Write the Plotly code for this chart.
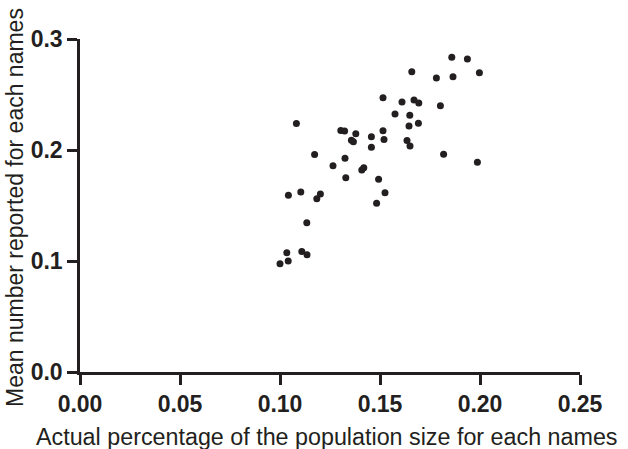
import plotly.graph_objects as go

actual_pct = [0.1859, 0.1937, 0.1659, 0.1997, 0.1782, 0.1865, 0.1515, 0.1610, 0.1670, 0.1694,
              0.1802, 0.1575, 0.1649, 0.1082, 0.1304, 0.1323, 0.1379, 0.1515, 0.1645, 0.1692,
              0.1357, 0.1367, 0.1457, 0.1520, 0.1635, 0.1457, 0.1650, 0.1173, 0.1325, 0.1818,
              0.1265, 0.1409, 0.1419, 0.1987, 0.1329, 0.1493, 0.1525, 0.1042, 0.1104, 0.1184,
              0.1202, 0.1483, 0.1134, 0.1034, 0.1109, 0.1135, 0.1000, 0.1041]
mean_reported = [0.2835, 0.2820, 0.2706, 0.2697, 0.2649, 0.2661, 0.2471, 0.2432, 0.2450, 0.2423,
                 0.2399, 0.2324, 0.2312, 0.2239, 0.2176, 0.2171, 0.2147, 0.2174, 0.2216, 0.2240,
                 0.2087, 0.2074, 0.2120, 0.2095, 0.2086, 0.2024, 0.2036, 0.1959, 0.1925, 0.1961,
                 0.1858, 0.1820, 0.1840, 0.1890, 0.1750, 0.1736, 0.1615, 0.1592, 0.1622, 0.1561,
                 0.1604, 0.1520, 0.1345, 0.1074, 0.1086, 0.1057, 0.0976, 0.1000]

x_ticks = [0.00, 0.05, 0.10, 0.15, 0.20, 0.25]
x_ticklabels = ["0.00", "0.05", "0.10", "0.15", "0.20", "0.25"]
y_ticks = [0.0, 0.1, 0.2, 0.3]
y_ticklabels = ["0.0", "0.1", "0.2", "0.3"]
x_title = "Actual percentage of the population size for each names"
y_title = "Mean number reported for each names"

ink = "#231f20"

fig = go.Figure(go.Scatter(
    x=actual_pct, y=mean_reported, mode="markers",
    marker=dict(size=7, color=ink, line=dict(width=0)),
    cliponaxis=False, showlegend=False,
))

axis_common = dict(
    showgrid=False, zeroline=False, showline=True, linecolor=ink, linewidth=2.5,
    ticks="outside", ticklen=10, tickwidth=2.5, tickcolor=ink, automargin=False,
    tickfont=dict(family="Liberation Sans", size=23, color=ink, weight="bold"),
)

fig.update_xaxes(range=[0, 0.25], tickvals=x_ticks, ticktext=x_ticklabels, **axis_common)
fig.update_yaxes(range=[0, 0.3], tickvals=y_ticks, ticktext=y_ticklabels, **axis_common)

fig.add_annotation(
    text=x_title, xref="paper", yref="paper", x=0.494, y=-0.195,
    xanchor="center", yanchor="middle", showarrow=False,
    font=dict(family="Liberation Sans", size=23.3, color=ink),
)
fig.add_annotation(
    text=y_title, xref="paper", yref="paper", x=-0.13, y=0.4925,
    xanchor="center", yanchor="middle", showarrow=False, textangle=-90,
    font=dict(family="Liberation Sans", size=23, color=ink),
)

fig.update_layout(
    width=628, height=449,
    margin=dict(l=80, r=48, t=39, b=77),
    plot_bgcolor="white", paper_bgcolor="white",
)

fig.write_html("out.html", config={"displayModeBar": False},
               post_script="document.body.style.margin='0';")
